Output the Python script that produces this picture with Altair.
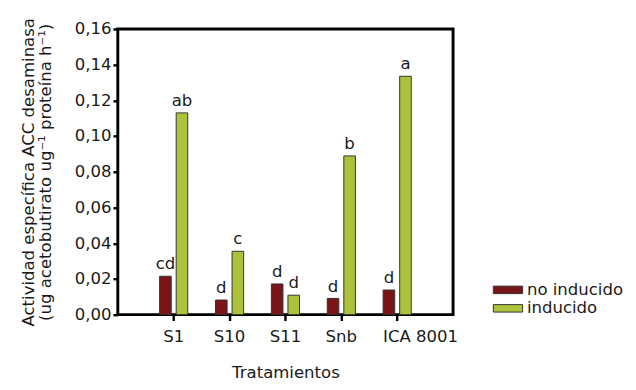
import altair as alt
import pandas as pd

tratamientos = ["S1", "S10", "S11", "Snb", "ICA 8001"]
grupos = ["no inducido", "inducido"]
no_inducido = [0.0215, 0.0082, 0.0172, 0.0091, 0.0138]
inducido = [0.113, 0.0355, 0.0109, 0.0889, 0.1335]
letras_no = ["cd", "d", "d", "d", "d"]
letras_ind = ["ab", "c", "d", "b", "a"]
colores = ["#7b1416", "#adc23a"]

rows = []
for i, t in enumerate(tratamientos):
    rows.append({"trat": t, "grupo": grupos[0], "valor": no_inducido[i], "letra": letras_no[i]})
    rows.append({"trat": t, "grupo": grupos[1], "valor": inducido[i], "letra": letras_ind[i]})
df = pd.DataFrame(rows)

FONT = "DejaVu Sans"
TXT = "#1a1a1a"
FS = 17

x = alt.X(
    "trat:N",
    sort=tratamientos,
    scale=alt.Scale(paddingInner=0.496, paddingOuter=0.748),
    axis=alt.Axis(
        title="Tratamientos",
        labelAngle=0,
        labelFontSize=FS,
        labelPadding=9,
        labelOffset={"condition": {"test": "datum.value === 'ICA 8001'", "value": 24}, "value": 0},
        tickSize=6,
        tickWidth=2.5,
        tickColor="black",
        domain=False,
        titlePadding=21,
        titleFontSize=FS,
    ),
)
xo = alt.XOffset("grupo:N", sort=grupos, scale=alt.Scale(paddingInner=0.3, paddingOuter=0))
y = alt.Y(
    "valor:Q",
    scale=alt.Scale(domain=[0, 0.16], nice=False),
    axis=alt.Axis(
        title=["Actividad específica ACC desaminasa", "(ug acetobutirato ug⁻¹ proteína h⁻¹)"],
        values=[0, 0.02, 0.04, 0.06, 0.08, 0.10, 0.12, 0.14, 0.16],
        labelExpr="replace(format(datum.value, '.2f'), '.', ',')",
        labelFontSize=FS,
        labelPadding=2,
        tickSize=5,
        tickWidth=2.5,
        tickColor="black",
        domain=False,
        grid=False,
        titleFontSize=FS,
        titleLineHeight=18,
        titlePadding=20,
    ),
)

bars = alt.Chart(df).mark_bar(stroke="#333333", strokeWidth=1).encode(
    x=x,
    xOffset=xo,
    y=y,
    color=alt.Color(
        "grupo:N",
        sort=grupos,
        scale=alt.Scale(domain=grupos, range=colores),
        legend=alt.Legend(
            title=None,
            orient="none",
            legendX=385,
            legendY=260,
            symbolType="M-2.15,-0.55H2.15V0.55H-2.15Z",
            symbolSize=196,
            symbolOffset=8,
            symbolStrokeColor="#333333",
            symbolStrokeWidth=1,
            labelFontSize=FS,
            labelFont=FONT,
            labelColor=TXT,
            labelOffset=11,
            rowPadding=1,
        ),
    ),
)

text = alt.Chart(df).mark_text(
    dy=-7, baseline="alphabetic", fontSize=FS, font=FONT, color=TXT
).encode(x=x, xOffset=xo, y=y, text="letra:N")

chart = (
    alt.layer(bars, text)
    .properties(width=345, height=294, padding={"left": 12, "top": 4, "right": 5, "bottom": 5})
    .configure_view(stroke="black", strokeWidth=3)
    .configure_axis(labelFont=FONT, titleFont=FONT, labelColor=TXT, titleColor=TXT, titleFontWeight="normal")
)

chart.save("out.html", embed_options={"renderer": "svg", "actions": False})
